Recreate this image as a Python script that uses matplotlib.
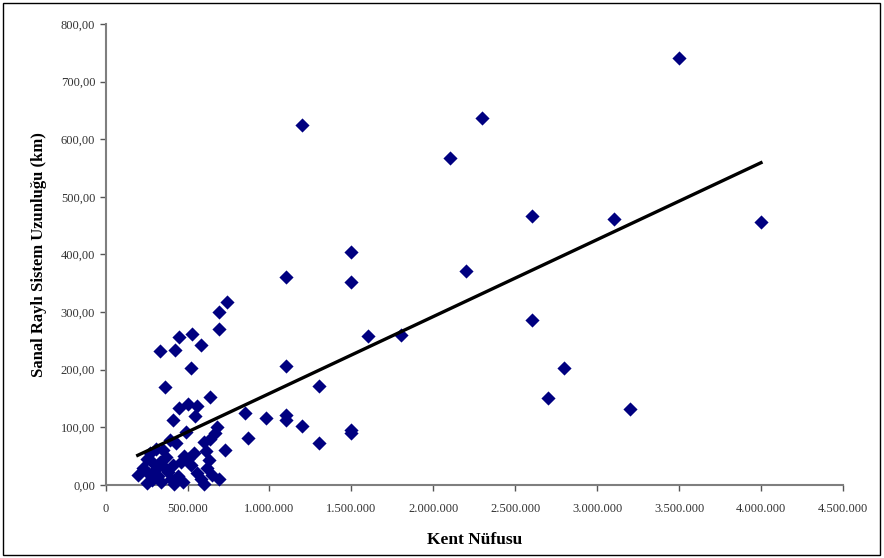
import numpy as np
import matplotlib.pyplot as plt
from matplotlib.patches import Rectangle
from matplotlib.ticker import FuncFormatter

# Kent nufusu (x) ve sanal rayli sistem uzunlugu (km, y)
big_pop = [3500000, 4000000, 3100000, 2600000, 2300000, 2100000, 2200000,
           2600000, 2800000, 2700000, 3200000, 1200000, 1500000, 1500000,
           1100000, 1100000, 1600000, 1800000, 1300000, 1500000, 1500000,
           1300000, 1200000, 1100000, 1100000, 980000, 850000, 870000]
big_len = [741, 457, 461, 466, 636, 568, 371,
           287, 203, 151, 132, 625, 405, 353,
           360, 206, 258, 261, 171, 95, 90,
           73, 102, 121, 113, 116, 124, 81]

small_pop = [740000, 690000, 690000, 530000, 445000, 585000, 425000, 330000,
             520000, 360000, 635000, 445000, 500000, 560000, 410000, 545000,
             670000, 680000, 490000, 600000, 730000, 390000, 430000, 350000,
             310000, 270000, 250000, 290000, 196000, 230000, 260000, 280000,
             300000, 320000, 340000, 360000, 380000, 400000, 420000, 440000,
             460000, 480000, 500000, 520000, 540000, 560000, 580000, 600000,
             620000, 630000, 650000, 690000, 470000, 250000, 330000, 370000,
             410000, 290000, 610000, 640000]
small_len = [318, 300, 270, 262, 256, 243, 235, 232,
             203, 170, 152, 133, 140, 137, 112, 120,
             90, 101, 92, 75, 60, 78, 72, 60,
             62, 55, 45, 38, 17, 30, 20, 8,
             25, 15, 5, 30, 22, 10, 2, 15,
             40, 50, 45, 35, 55, 20, 10, 2,
             30, 43, 18, 10, 5, 3, 40, 48,
             35, 12, 58, 80]

pop = np.array(big_pop + small_pop, dtype=float)
length = np.array(big_len + small_len, dtype=float)

fig = plt.figure(figsize=(8.84, 5.58), dpi=100)
ax = fig.add_axes([0.1195, 0.131, 0.834, 0.826])

ax.scatter(pop, length, marker='D', s=52, color='#000080', zorder=3,
           linewidths=0, clip_on=False)

# Dogrusal egilim cizgisi
m, b = np.polyfit(pop, length, 1)
xs = np.array([pop.min(), pop.max()])
ax.plot(xs, m * xs + b, color='black', lw=2.4, zorder=4)

ax.set_xlim(0, 4500000)
ax.set_ylim(0, 800)
ax.set_xticks(np.arange(0, 4500001, 500000))
ax.set_yticks(np.arange(0, 801, 100))

def fmt_x(v, pos):
    return f"{int(v):,}".replace(',', '.')

def fmt_y(v, pos):
    return f"{v:.2f}".replace('.', ',')

ax.xaxis.set_major_formatter(FuncFormatter(fmt_x))
ax.yaxis.set_major_formatter(FuncFormatter(fmt_y))

for s in ['top', 'right']:
    ax.spines[s].set_visible(False)
for s in ['left', 'bottom']:
    ax.spines[s].set_color('#7f7f7f')
    ax.spines[s].set_linewidth(1.5)

ax.tick_params(axis='both', direction='out', length=4, width=1,
               color='#555555', labelsize=9, labelcolor='#333333')
ax.tick_params(axis='x', pad=9)
for lab in ax.get_xticklabels() + ax.get_yticklabels():
    lab.set_family('Liberation Serif')

ax.set_xlabel('Kent Nüfusu', family='Liberation Serif', fontsize=12.5,
              fontweight='bold', labelpad=12)
ax.set_ylabel('Sanal Raylı Sistem Uzunluğu (km)', family='Liberation Serif',
              fontsize=12, fontweight='bold', labelpad=10)

fig.patches.append(Rectangle((0.003, 0.005), 0.993, 0.99, transform=fig.transFigure,
                             fill=False, edgecolor='black', lw=1))

fig.savefig('out.png', dpi=100)
